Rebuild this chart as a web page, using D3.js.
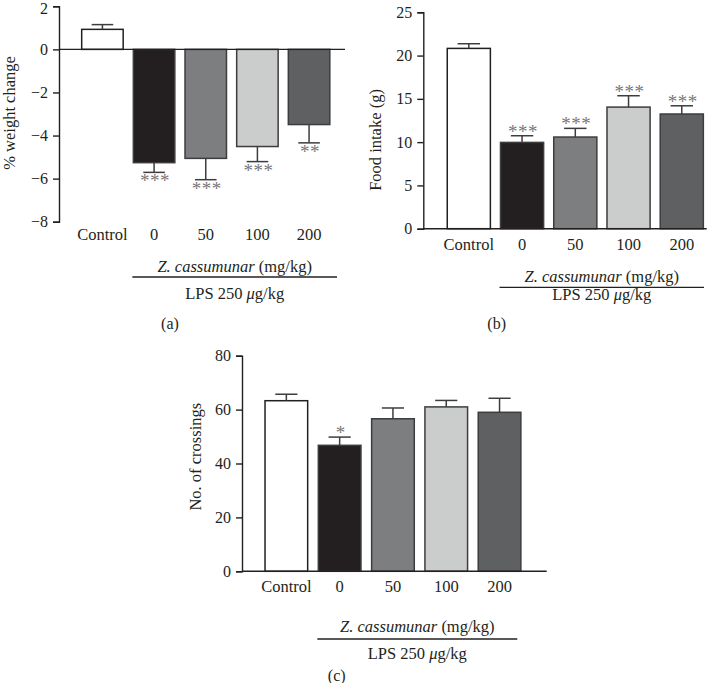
<!DOCTYPE html>
<html><head><meta charset="utf-8">
<script src="https://cdn.jsdelivr.net/npm/d3@7"></script>
<style>body{margin:0;background:#fff}svg{display:block}text{font-family:"Liberation Serif","DejaVu Serif",serif;fill:#231f20}</style>
</head><body>
<svg id="chart" width="728" height="683"></svg>
<script>
const categories = ["Control", "0", "50", "100", "200"];
const fills = ["#ffffff", "#231f20", "#7d7e80", "#cbcccc", "#5f6062"];

const weightChange = [0.93, -5.26, -5.06, -4.51, -3.49];
const weightErr = [0.22, 0.45, 0.99, 0.70, 0.85];
const weightStars = ["", "***", "***", "***", "**"];
const weightTicks = [2, 0, -2, -4, -6, -8];

const foodIntake = [20.83, 9.97, 10.59, 14.05, 13.25];
const foodErr = [0.54, 0.77, 1.0, 1.31, 0.95];
const foodStars = ["", "***", "***", "***", "***"];
const foodTicks = [0, 5, 10, 15, 20, 25];

const crossings = [63.3, 46.75, 56.6, 61.0, 59.0];
const crossErr = [2.4, 3.05, 4.0, 2.4, 5.2];
const crossStars = ["", "*", "", "", ""];
const crossTicks = [0, 20, 40, 60, 80];

const svg = d3.select("#chart");

function panel(cfg) {
  const g = svg.append("g");
  const y = d3.scaleLinear().domain(cfg.domain).range(cfg.yRange);
  const x = d3.scaleBand().domain(categories).range(cfg.xRange)
    .paddingInner(cfg.pad).paddingOuter(cfg.pad / 2);
  const y0 = y(0);

  // y axis
  const ax = g.append("g").attr("transform", `translate(${cfg.axisX},0)`)
    .call(d3.axisLeft(y).tickValues(cfg.ticks).tickSize(6).tickPadding(5)
      .tickFormat(d => d < 0 ? "\u2212" + Math.abs(d) : d));
  ax.select(".domain").attr("stroke", "#231f20").attr("stroke-width", 1.4);
  ax.selectAll(".tick line").attr("stroke", "#231f20").attr("stroke-width", 1.4);
  ax.selectAll(".tick text").attr("font-size", 16).attr("font-family", "Liberation Serif").attr("fill", "#231f20")
    .attr("dy", d => (y(d) < 10 ? 0.32 * 16 + 2 : 0.32 * 16) + "px");

  // bars
  g.selectAll("rect.bar").data(cfg.values).join("rect")
    .attr("x", (d, i) => x(categories[i]))
    .attr("width", x.bandwidth())
    .attr("y", d => Math.min(y(d), y0))
    .attr("height", d => Math.abs(y(d) - y0))
    .attr("fill", (d, i) => fills[i])
    .attr("stroke", (d, i) => i === 0 ? "#231f20" : "#3d3d3f")
    .attr("stroke-width", 1.5);

  // error bars
  const cap = x.bandwidth() * 0.26;
  cfg.values.forEach((v, i) => {
    const cx = x(categories[i]) + x.bandwidth() / 2;
    const e = v >= 0 ? v + cfg.err[i] : v - cfg.err[i];
    g.append("line").attr("x1", cx).attr("x2", cx).attr("y1", y(v)).attr("y2", y(e))
      .attr("stroke", "#3d3d3f").attr("stroke-width", 1.5);
    g.append("line").attr("x1", cx - cap).attr("x2", cx + cap).attr("y1", y(e)).attr("y2", y(e))
      .attr("stroke", "#3d3d3f").attr("stroke-width", 1.5);
    if (cfg.stars[i]) {
      g.append("text").attr("x", cx + 1).attr("y", v >= 0 ? y(e) + 2 : y(e) + 15)
        .attr("text-anchor", "middle").attr("font-size", 19).attr("letter-spacing", 0.5)
        .style("fill", "#777").text(cfg.stars[i]);
    }
  });

  // zero baseline
  g.append("line").attr("x1", cfg.axisX).attr("x2", cfg.axisEnd).attr("y1", y0).attr("y2", y0)
    .attr("stroke", "#231f20").attr("stroke-width", 1.4);

  // category labels
  g.selectAll("text.cat").data(categories).join("text")
    .attr("x", d => x(d) + x.bandwidth() / 2).attr("y", cfg.catY)
    .attr("text-anchor", "middle").attr("font-size", 16.5).text(d => d);

  // group label
  const gx0 = x(categories[1]) - 1, gx1 = cfg.lineEnd;
  const gmid = (gx0 + gx1) / 2;
  const t1 = g.append("text").attr("x", gmid).attr("y", cfg.zY).attr("text-anchor", "middle").attr("font-size", 16.5);
  t1.append("tspan").attr("font-style", "italic").text("Z. cassumunar");
  t1.append("tspan").text(" (mg/kg)");
  g.append("line").attr("x1", gx0).attr("x2", gx1).attr("y1", cfg.lineY).attr("y2", cfg.lineY)
    .attr("stroke", "#231f20").attr("stroke-width", 1.3);
  const t2 = g.append("text").attr("x", gmid).attr("y", cfg.lpsY).attr("text-anchor", "middle").attr("font-size", 16.5);
  t2.append("tspan").text("LPS 250 ");
  t2.append("tspan").attr("font-style", "italic").text("\u03bc");
  t2.append("tspan").text("g/kg");

  // y label
  g.append("text").attr("transform", `translate(${cfg.yLabX},${cfg.yLabY}) rotate(-90)`)
    .attr("text-anchor", "middle").attr("font-size", 16.5).text(cfg.yLabel);

  // panel letter
  g.append("text").attr("x", cfg.letterX).attr("y", cfg.letterY).attr("text-anchor", "middle")
    .attr("font-size", 16).text(cfg.letter);
}

panel({
  domain: [-8, 2], yRange: [221.7, 6.3], ticks: weightTicks,
  xRange: [76.6, 334.9], pad: 0.197, axisX: 59, axisEnd: 345,
  values: weightChange, err: weightErr, stars: weightStars,
  catY: 240, zY: 272, lineY: 277, lineEnd: 337, lpsY: 299,
  yLabX: 15, yLabY: 113, yLabel: "% weight change",
  letterX: 170, letterY: 329, letter: "(a)"
});

panel({
  domain: [0, 25], yRange: [228.7, 12.3], ticks: foodTicks,
  xRange: [442.2, 708.4], pad: 0.19, axisX: 423.3, axisEnd: 706.7,
  values: foodIntake, err: foodErr, stars: foodStars,
  catY: 250, zY: 282, lineY: 287.3, lineEnd: 704, lpsY: 300,
  yLabX: 381, yLabY: 140, yLabel: "Food intake (g)",
  letterX: 496.7, letterY: 329, letter: "(b)"
});

panel({
  domain: [0, 80], yRange: [571.3, 355.7], ticks: crossTicks,
  xRange: [259.7, 526.2], pad: 0.2, axisX: 242, axisEnd: 546.7,
  values: crossings, err: crossErr, stars: crossStars,
  catY: 592, zY: 632, lineY: 639, lineEnd: 517.3, lpsY: 659,
  yLabX: 201, yLabY: 456.7, yLabel: "No. of crossings",
  letterX: 336.7, letterY: 681, letter: "(c)"
});
</script>
</body></html>
